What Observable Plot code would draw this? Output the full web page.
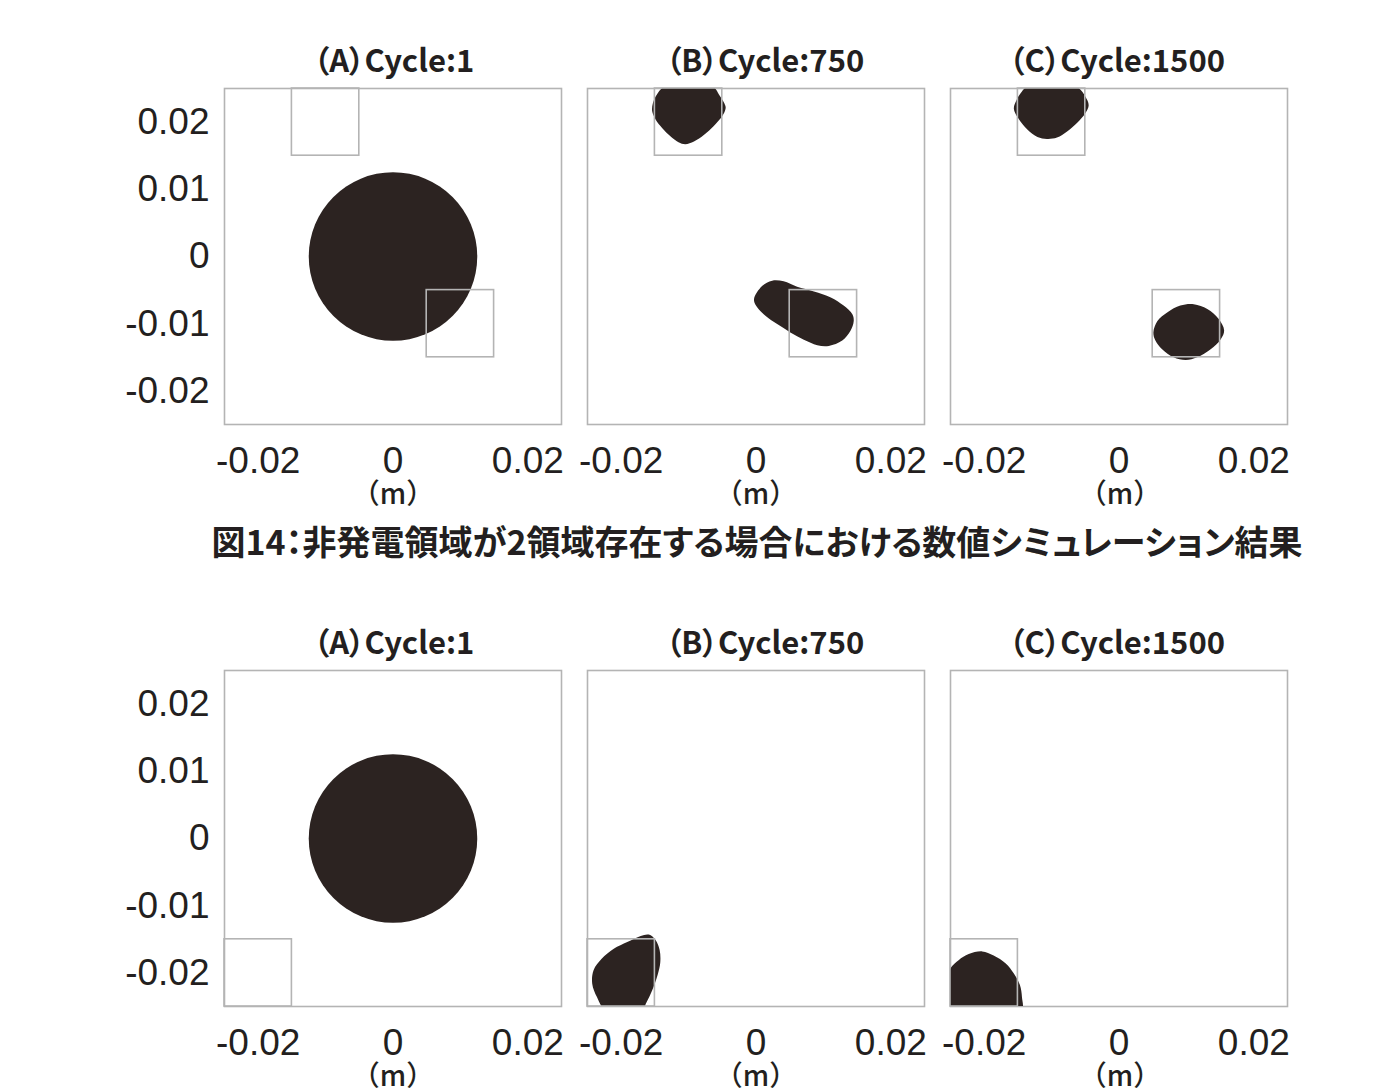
<!DOCTYPE html>
<html><head><meta charset="utf-8">
<script src="https://cdn.jsdelivr.net/npm/d3@7"></script>
<script src="https://cdn.jsdelivr.net/npm/@observablehq/plot@0.6"></script>
<style>
body{margin:0;background:#fff;}
#root{position:relative;width:1396px;height:1090px;overflow:hidden;background:#fff;}
.abs{position:absolute;}
.title{font-family:"Noto Sans CJK JP";font-weight:700;font-size:31px;color:#231f20;white-space:nowrap;transform:translateX(-50%);line-height:1;font-feature-settings:"palt";}
.unit{font-family:"Noto Sans CJK JP";font-weight:500;font-size:28px;color:#231f20;white-space:nowrap;transform:translateX(-50%);line-height:1;}
.caption{font-family:"Noto Sans CJK JP";font-weight:700;font-size:34px;color:#231f20;white-space:nowrap;transform:translateX(-50%);line-height:1;font-feature-settings:"palt";}
</style></head>
<body><div id="root"></div>
<script>
// ---- data ----
const panelTitles = ["（A）Cycle:1", "（B）Cycle:750", "（C）Cycle:1500"];
const xTicks = [-0.02, 0, 0.02];
const yTicks = [-0.02, -0.01, 0, 0.01, 0.02];
const axisDomain = [-0.025, 0.025];
const unitLabel = "（m）";
const caption = "図14：非発電領域が2領域存在する場合における数値シミュレーション結果";

// non-generating regions
const regionsRow1 = [
  {x1: -0.015, x2: -0.005, y1: 0.015, y2: 0.025},
  {x1: 0.005, x2: 0.015, y1: -0.015, y2: -0.005}
];
const regionsRow2 = [
  {x1: -0.025, x2: -0.015, y1: -0.025, y2: -0.015}
];
// initial magnet (cycle 1)
const initialCircle = [{x: 0, y: 0, r: 0.0125}];

// row 1 outlines
const row1B750a = [[-0.0147,0.0241],[-0.0137,0.0252],[-0.0097,0.0256],[-0.0063,0.0252],[-0.0055,0.0241],[-0.0047,0.0228],[-0.0045,0.0221],[-0.0050,0.0209],[-0.0063,0.0194],[-0.0077,0.0181],[-0.0092,0.0171],[-0.0105,0.0167],[-0.0115,0.0170],[-0.0127,0.0179],[-0.0139,0.0191],[-0.0149,0.0204],[-0.0154,0.0216],[-0.0153,0.0228]];
const row1B750b = [[-0.0003,-0.0064],[0.0009,-0.0044],[0.0024,-0.0036],[0.0041,-0.0037],[0.0061,-0.0045],[0.0086,-0.0052],[0.0111,-0.0061],[0.0130,-0.0073],[0.0143,-0.0086],[0.0145,-0.0096],[0.0140,-0.0111],[0.0128,-0.0125],[0.0108,-0.0133],[0.0091,-0.0132],[0.0071,-0.0124],[0.0051,-0.0113],[0.0032,-0.0101],[0.0014,-0.0088],[0.0002,-0.0076]];
const row1C1500a = [[-0.0146,0.0243],[-0.0136,0.0253],[-0.0102,0.0256],[-0.0062,0.0252],[-0.0050,0.0238],[-0.0045,0.0225],[-0.0050,0.0213],[-0.0062,0.0199],[-0.0077,0.0186],[-0.0092,0.0177],[-0.0107,0.0175],[-0.0121,0.0178],[-0.0136,0.0189],[-0.0149,0.0205],[-0.0156,0.0220],[-0.0152,0.0233]];
const row1C1500b = [[0.0051,-0.0113],[0.0057,-0.0096],[0.0072,-0.0083],[0.0091,-0.0073],[0.0111,-0.0071],[0.0131,-0.0078],[0.0148,-0.0093],[0.0156,-0.0110],[0.0151,-0.0123],[0.0136,-0.0138],[0.0116,-0.0150],[0.0099,-0.0154],[0.0081,-0.0150],[0.0064,-0.0138],[0.0054,-0.0125]];
// row 2 outlines
const row2B750 = [[-0.0236,-0.0236],[-0.0243,-0.0216],[-0.0241,-0.0196],[-0.0229,-0.0179],[-0.0211,-0.0164],[-0.0191,-0.0154],[-0.0171,-0.0145],[-0.0159,-0.0143],[-0.0149,-0.0151],[-0.0143,-0.0166],[-0.0142,-0.0184],[-0.0146,-0.0203],[-0.0154,-0.0226],[-0.0162,-0.0243],[-0.0170,-0.0256],[-0.0200,-0.0258],[-0.0225,-0.0254]];
const row2C1500 = [[-0.0256,-0.0256],[-0.0256,-0.0215],[-0.0250,-0.0193],[-0.0238,-0.0181],[-0.0223,-0.0172],[-0.0203,-0.0168],[-0.0186,-0.0174],[-0.0168,-0.0186],[-0.0156,-0.0201],[-0.0147,-0.0218],[-0.0144,-0.0236],[-0.0145,-0.0256]];

// ---- layout ----
const FW = 337, FH = 336;
const frameLefts = [224, 587, 950];
const rowTops = [88, 670];
const titleCenters = [394, 765, 1117];
const unitCenters = [393, 756, 1120];
const INK = "#2c2321", GRAY = "#b4b4b4", TXT = "#231f20";
const fmt = d => d === 0 ? "0" : (d < 0 ? "-" : "") + Math.abs(d).toFixed(2);

const root = document.getElementById("root");

function panel(row, col, shapes, regions, circle) {
  const showY = col === 0;
  const ML = showY ? 140 : 45, MR = 40, MT = 6, MB = 70;
  const marks = [Plot.frame({stroke: GRAY, strokeWidth: 1.6})];
  if (circle) marks.push(Plot.dot(circle, {x: "x", y: "y", r: "r", fill: INK, stroke: "none"}));
  for (const s of shapes) {
    marks.push(Plot.line(s, {x: d => d[0], y: d => d[1], curve: "catmull-rom-closed", fill: INK, stroke: "none", clip: "frame"}));
  }
  marks.push(Plot.rect(regions, {x1: "x1", x2: "x2", y1: "y1", y2: "y2", fill: "none", stroke: GRAY, strokeWidth: 1.6}));
  marks.push(Plot.axisX({ticks: xTicks, tickSize: 0, tickPadding: 22, tickFormat: fmt, label: null, fill: TXT}));
  if (showY) marks.push(Plot.axisY({ticks: yTicks, tickSize: 0, tickPadding: 15, tickFormat: fmt, label: null, fill: TXT}));
  const p = Plot.plot({
    width: FW + ML + MR, height: FH + MT + MB,
    marginLeft: ML, marginRight: MR, marginTop: MT, marginBottom: MB,
    x: {domain: axisDomain},
    y: {domain: axisDomain, axis: showY ? undefined : null},
    r: {type: "linear", domain: [0, axisDomain[1] - axisDomain[0]], range: [0, FW]},
    style: {background: "transparent", fontFamily: "'Liberation Sans', Arial, sans-serif", fontSize: "37px", color: TXT, overflow: "visible"},
    marks
  });
  const wrap = document.createElement("div");
  wrap.className = "abs";
  wrap.style.left = (frameLefts[col] - ML) + "px";
  wrap.style.top = (rowTops[row] - MT) + "px";
  wrap.appendChild(p);
  root.appendChild(wrap);

  const t = document.createElement("div");
  t.className = "abs title";
  t.textContent = panelTitles[col];
  t.style.left = titleCenters[col] + "px";
  t.style.top = (rowTops[row] - 45) + "px";
  root.appendChild(t);

  const u = document.createElement("div");
  u.className = "abs unit";
  u.textContent = unitLabel;
  u.style.left = unitCenters[col] + "px";
  u.style.top = (rowTops[row] + 390) + "px";
  root.appendChild(u);
}

panel(0, 0, [], regionsRow1, initialCircle);
panel(0, 1, [row1B750a, row1B750b], regionsRow1, null);
panel(0, 2, [row1C1500a, row1C1500b], regionsRow1, null);
panel(1, 0, [], regionsRow2, initialCircle);
panel(1, 1, [row2B750], regionsRow2, null);
panel(1, 2, [row2C1500], regionsRow2, null);

const c = document.createElement("div");
c.className = "abs caption";
c.textContent = caption;
c.style.left = "757px";
c.style.top = "524px";
root.appendChild(c);
</script>
</body></html>
